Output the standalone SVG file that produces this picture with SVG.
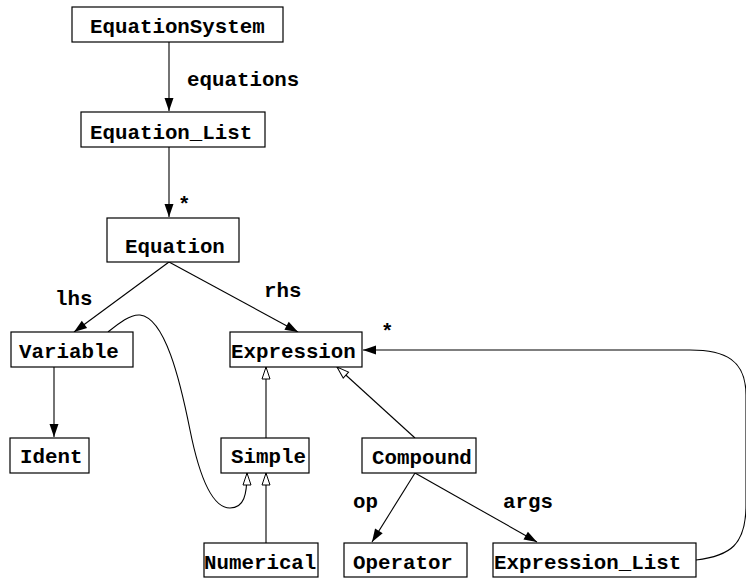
<svg xmlns="http://www.w3.org/2000/svg" width="746" height="580" viewBox="0 0 746 580">
<style>
.box{fill:#fff;stroke:#000;stroke-width:1.2}
.t{font-family:"Liberation Mono","Courier New",monospace;font-weight:bold;font-size:20.8px;fill:#000}
.c{fill:none;stroke:#000;stroke-width:1.1}
.a{marker-end:url(#arr)}
.h{marker-end:url(#tri)}
</style>
<defs>
<marker id="arr" markerUnits="userSpaceOnUse" markerWidth="14" markerHeight="10" refX="13" refY="4.5" orient="auto" overflow="visible">
<path d="M0,0 L13,4.5 L0,9 z" fill="#000"/>
</marker>
<marker id="tri" markerUnits="userSpaceOnUse" markerWidth="14" markerHeight="10" refX="12" refY="4" orient="auto" overflow="visible">
<path d="M0,0 L12,4 L0,8 z" fill="#fff" stroke="#000" stroke-width="1"/>
</marker>
</defs>
<rect width="746" height="580" fill="#fff"/>
<g id="connectors">
<line class="c a" x1="169" y1="42" x2="169" y2="111"/>
<line class="c a" x1="169" y1="147" x2="169" y2="217"/>
<line class="c a" x1="169" y1="262" x2="74" y2="332"/>
<line class="c a" x1="169" y1="262" x2="298" y2="332"/>
<line class="c a" x1="54" y1="367" x2="54" y2="437"/>
<line class="c h" x1="266" y1="438" x2="266" y2="367"/>
<line class="c h" x1="266" y1="543" x2="266" y2="473"/>
<line class="c h" x1="415" y1="438" x2="337" y2="367"/>
<path class="c h" d="M108,332 C118,324 130,314 140,315 C165,318 180,380 190,430 C198,470 210,508 230,508 C244,508 247,495 247,473"/>
<line class="c a" x1="415" y1="473" x2="372" y2="542"/>
<line class="c a" x1="415" y1="473" x2="537" y2="542"/>
<path class="c a" d="M696,560 C730,556 746,545 746,505 L746,395 C746,360 725,350 690,350 L363,350"/>
<text class="t" x="187" y="86">equations</text>
<text class="t" x="178" y="211">*</text>
<text class="t" x="55" y="305">lhs</text>
<text class="t" x="264" y="297">rhs</text>
<text class="t" x="381" y="338">*</text>
<text class="t" x="353" y="508">op</text>
<text class="t" x="503" y="508">args</text>
</g>
<g id="EquationSystem"><rect class="box" x="72" y="7" width="211" height="35"/><text class="t" x="90" y="33">EquationSystem</text></g>
<g id="Equation_List"><rect class="box" x="81" y="112" width="184" height="35"/><text class="t" x="90" y="139">Equation_List</text></g>
<g id="Equation"><rect class="box" x="107" y="218" width="132" height="44"/><text class="t" x="125" y="253">Equation</text></g>
<g id="Variable"><rect class="box" x="11" y="332" width="122" height="35"/><text class="t" x="19" y="358">Variable</text></g>
<g id="Expression"><rect class="box" x="230" y="332" width="132" height="35"/><text class="t" x="231" y="358">Expression</text></g>
<g id="Ident"><rect class="box" x="10" y="438" width="79" height="35"/><text class="t" x="20" y="463">Ident</text></g>
<g id="Simple"><rect class="box" x="221" y="438" width="88" height="35"/><text class="t" x="231" y="463">Simple</text></g>
<g id="Compound"><rect class="box" x="362" y="438" width="114" height="35"/><text class="t" x="372" y="464">Compound</text></g>
<g id="Numerical"><rect class="box" x="204" y="543" width="114" height="34"/><text class="t" x="204" y="569">Numerical</text></g>
<g id="Operator"><rect class="box" x="344" y="543" width="123" height="34"/><text class="t" x="353" y="569">Operator</text></g>
<g id="Expression_List"><rect class="box" x="493" y="543" width="203" height="34"/><text class="t" x="494" y="569">Expression_List</text></g>
</svg>
